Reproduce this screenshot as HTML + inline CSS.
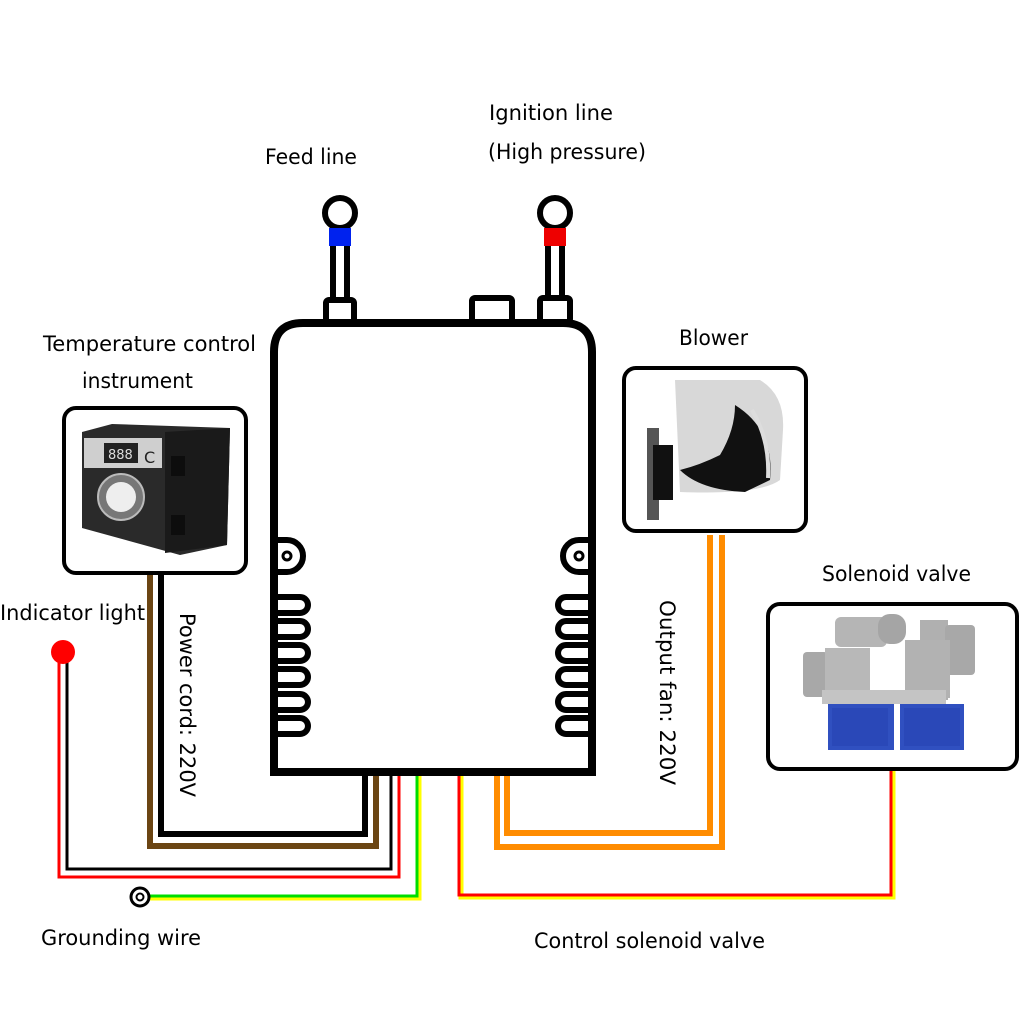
<!DOCTYPE html>
<html><head><meta charset="utf-8"><style>
html,body{margin:0;padding:0;background:#fff;}
svg{display:block;}
text{font-family:"DejaVu Sans","Liberation Sans",sans-serif;font-size:21px;fill:#000;}
</style></head><body>
<svg width="1024" height="1024" viewBox="0 0 1024 1024" xmlns="http://www.w3.org/2000/svg">
<rect width="1024" height="1024" fill="#fff"/>
<g fill="none" stroke-linejoin="miter">
  <polyline points="461,776 461,897 893,897 893,770" stroke="#ffff00" stroke-width="5"/>
  <polyline points="459,776 459,895 891,895 891,770" stroke="#ff0000" stroke-width="3"/>
  <polyline points="497,776 497,847 722,847 722,535" stroke="#ff8c00" stroke-width="6"/>
  <polyline points="507,776 507,833 710,833 710,535" stroke="#ff8c00" stroke-width="6"/>
  <polyline points="140,898 419,898 419,776" stroke="#ffff00" stroke-width="5"/>
  <polyline points="140,896 417,896 417,776" stroke="#00dd00" stroke-width="3"/>
  <polyline points="59,660 59,877 399,877 399,776" stroke="#ff0000" stroke-width="3"/>
  <polyline points="67,660 67,869 391,869 391,776" stroke="#000" stroke-width="3"/>
  <polyline points="150,573 150,846 376,846 376,776" stroke="#6b4513" stroke-width="6"/>
  <polyline points="161,573 161,834 365,834 365,776" stroke="#000" stroke-width="6"/>
</g>
<circle cx="63" cy="652" r="12" fill="#ff0000"/>
<circle cx="140" cy="897" r="9" fill="#fff" stroke="#000" stroke-width="3"/>
<circle cx="140" cy="897" r="3.5" fill="none" stroke="#000" stroke-width="2"/>

<g stroke="#000" fill="#fff" stroke-width="6">
  <rect x="326" y="300" width="28" height="22" rx="3"/>
  <rect x="472" y="298" width="40" height="24" rx="3"/>
  <rect x="540" y="298" width="30" height="24" rx="3"/>
  <line x1="333" y1="246" x2="333" y2="302"/>
  <line x1="347" y1="246" x2="347" y2="302"/>
  <line x1="548" y1="246" x2="548" y2="300"/>
  <line x1="562" y1="246" x2="562" y2="300"/>
  <circle cx="340" cy="213" r="15"/>
  <circle cx="555" cy="213" r="15"/>
</g>
<rect x="329" y="228" width="22" height="18" fill="#0022ee"/>
<rect x="544" y="228" width="22" height="18" fill="#ee0000"/>

<path d="M274,772 L274,352 Q274,323 303,323 L563,323 Q592,323 592,352 L592,772 Z" fill="#fff" stroke="#000" stroke-width="8"/>
<g fill="none" stroke="#000" stroke-width="6">
  <path d="M274,540 L287,540 A16,16 0 0 1 287,572 L274,572"/>
  <circle cx="287" cy="556" r="4" stroke-width="3"/>
  <path d="M592,540 L579,540 A16,16 0 0 0 579,572 L592,572"/>
  <circle cx="579" cy="556" r="4" stroke-width="3"/>
</g>
<g fill="none" stroke="#000" stroke-width="6">
  <path d="M274,597 L300,597 A8,8 0 0 1 300,613 L274,613"/>
  <path d="M274,621 L300,621 A8,8 0 0 1 300,637 L274,637"/>
  <path d="M274,645 L300,645 A8,8 0 0 1 300,661 L274,661"/>
  <path d="M274,669 L300,669 A8,8 0 0 1 300,685 L274,685"/>
  <path d="M274,694 L300,694 A8,8 0 0 1 300,710 L274,710"/>
  <path d="M274,718 L300,718 A8,8 0 0 1 300,734 L274,734"/>
  <path d="M592,597 L566,597 A8,8 0 0 0 566,613 L592,613"/>
  <path d="M592,621 L566,621 A8,8 0 0 0 566,637 L592,637"/>
  <path d="M592,645 L566,645 A8,8 0 0 0 566,661 L592,661"/>
  <path d="M592,669 L566,669 A8,8 0 0 0 566,685 L592,685"/>
  <path d="M592,694 L566,694 A8,8 0 0 0 566,710 L592,710"/>
  <path d="M592,718 L566,718 A8,8 0 0 0 566,734 L592,734"/>
</g>

<rect x="64" y="408" width="182" height="165" rx="12" fill="#fff" stroke="#000" stroke-width="4"/>
<polygon points="82,432 112,424 230,428 227,545 180,555 82,528" fill="#2a2a2a"/>
<polygon points="165,432 230,428 227,545 165,553" fill="#1a1a1a"/>
<rect x="84" y="438" width="78" height="30" fill="#cfcfcf"/>
<rect x="104" y="443" width="34" height="20" fill="#222"/>
<text x="108" y="459" style="font-size:13px;fill:#ddd">888</text>
<text x="144" y="463" style="font-size:16px;fill:#222">C</text>
<circle cx="121" cy="497" r="23" fill="#777" stroke="#bbb" stroke-width="2"/>
<circle cx="121" cy="497" r="15" fill="#eee"/>
<rect x="171" y="456" width="14" height="20" fill="#0d0d0d"/>
<rect x="171" y="515" width="14" height="20" fill="#0d0d0d"/>

<rect x="624" y="368" width="182" height="163" rx="12" fill="#fff" stroke="#000" stroke-width="4"/>
<rect x="647" y="428" width="12" height="92" fill="#555"/>
<rect x="653" y="445" width="20" height="55" fill="#111"/>
<path d="M675,380 L760,380 Q785,395 783,430 L780,480 Q760,495 680,492 Z" fill="#d8d8d8"/>
<path d="M735,405 Q775,430 770,480 L745,492 Q700,490 680,470 Q700,465 720,455 Q735,430 735,405 Z" fill="#111"/>
<path d="M752,410 Q770,440 768,478" stroke="#ddd" stroke-width="4" fill="none"/>

<rect x="768" y="604" width="249" height="165" rx="12" fill="#fff" stroke="#000" stroke-width="4"/>
<rect x="803" y="652" width="25" height="45" rx="4" fill="#a8a8a8"/>
<rect x="835" y="617" width="52" height="30" rx="6" fill="#b5b5b5"/>
<rect x="878" y="614" width="28" height="30" rx="12" fill="#a5a5a5"/>
<rect x="920" y="620" width="28" height="80" fill="#b0b0b0"/>
<rect x="945" y="625" width="30" height="50" rx="4" fill="#a8a8a8"/>
<rect x="825" y="648" width="45" height="50" fill="#b8b8b8"/>
<rect x="905" y="640" width="45" height="58" fill="#b2b2b2"/>
<rect x="822" y="690" width="124" height="14" fill="#c4c4c4"/>
<rect x="828" y="704" width="66" height="46" fill="#3050c0"/>
<rect x="900" y="704" width="64" height="46" fill="#3050c0"/>
<rect x="832" y="708" width="56" height="38" fill="#2a48b8"/>
<rect x="904" y="708" width="56" height="38" fill="#2a48b8"/>

<g>
<text x="265" y="164" textLength="92" lengthAdjust="spacingAndGlyphs">Feed line</text>
<text x="489" y="120" textLength="124" lengthAdjust="spacingAndGlyphs">Ignition line</text>
<text x="488" y="159" textLength="158" lengthAdjust="spacingAndGlyphs">(High pressure)</text>
<text x="43" y="351" textLength="213" lengthAdjust="spacingAndGlyphs">Temperature control</text>
<text x="82" y="388" textLength="111" lengthAdjust="spacingAndGlyphs">instrument</text>
<text x="679" y="345" textLength="69" lengthAdjust="spacingAndGlyphs">Blower</text>
<text x="822" y="581" textLength="149" lengthAdjust="spacingAndGlyphs">Solenoid valve</text>
<text x="0" y="620" textLength="145" lengthAdjust="spacingAndGlyphs">Indicator light</text>
<text x="41" y="945" textLength="160" lengthAdjust="spacingAndGlyphs">Grounding wire</text>
<text x="534" y="948" textLength="231" lengthAdjust="spacingAndGlyphs">Control solenoid valve</text>
<text transform="translate(180,613) rotate(90)" textLength="184" lengthAdjust="spacingAndGlyphs">Power cord: 220V</text>
<text transform="translate(660,600) rotate(90)" textLength="185" lengthAdjust="spacingAndGlyphs">Output fan: 220V</text>
</g>
</svg>
</body></html>
